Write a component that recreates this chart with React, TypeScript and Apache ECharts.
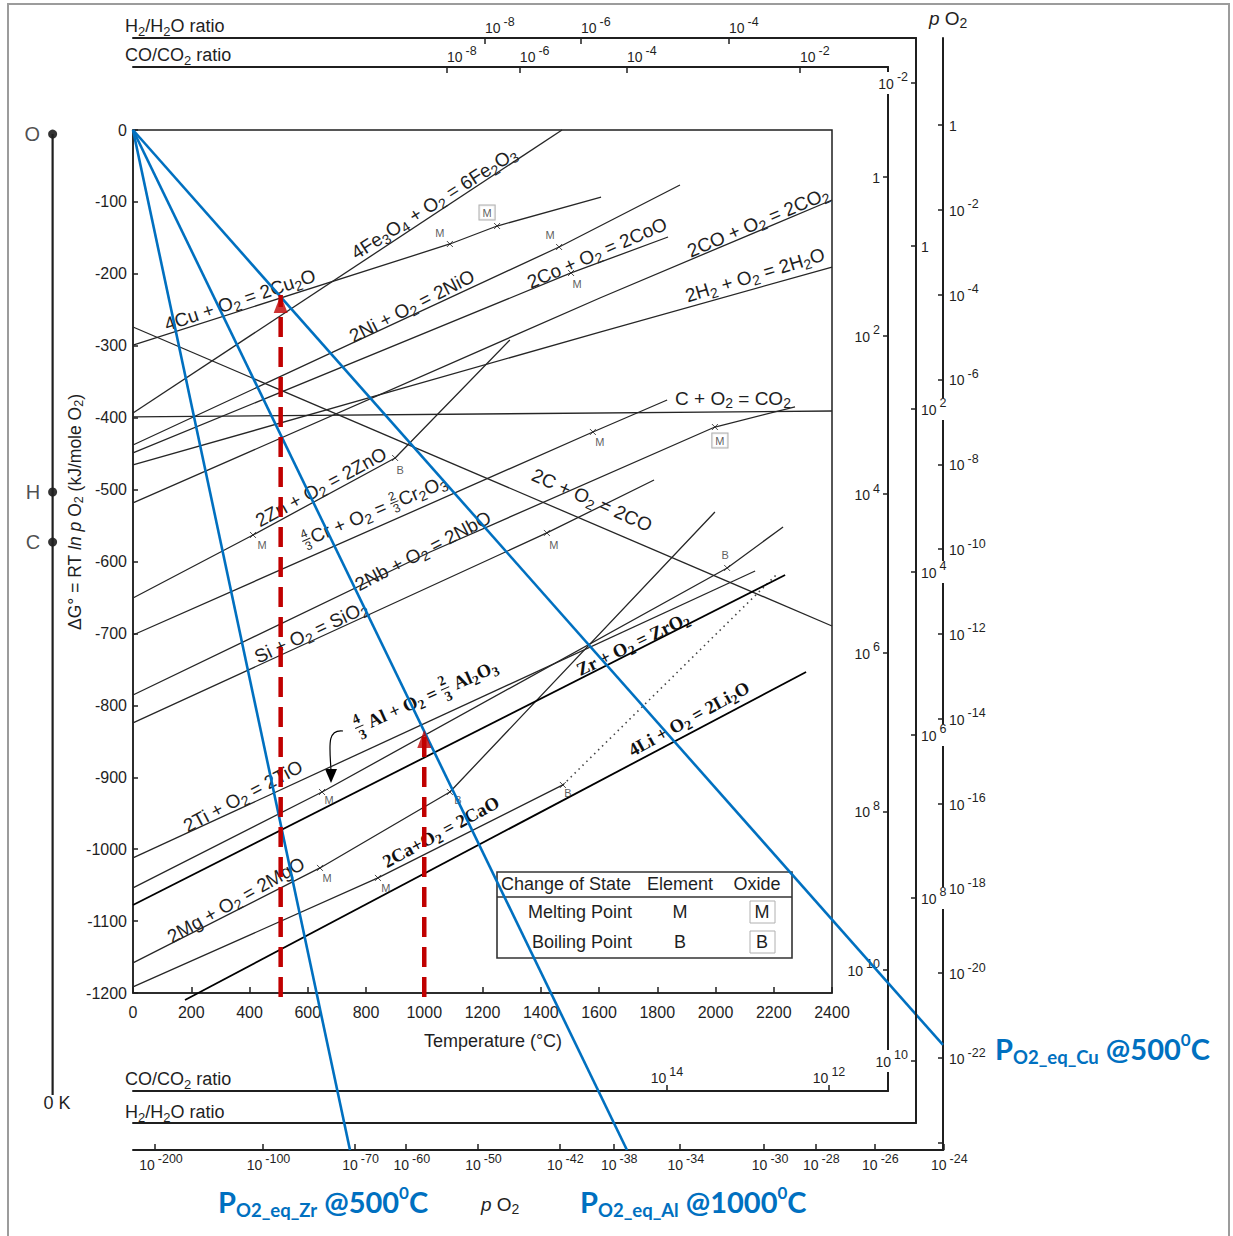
import React, { useEffect, useRef } from 'react';
import * as echarts from 'echarts';

// ================= DATA =================
// Ellingham lines: [temperature (°C), ΔG° (kJ / mole O2)]
const fe2o3Line = [[0, -393.5], [1473, 0]];
const cu2oLine = [[0, -299], [1088, -158.5], [1250, -133.5], [1607, -93.2]];
const nioLine = [[0, -438], [1463, -162.7], [1878, -76.5]];
const cooLine = [[0, -449], [1504, -198.8], [1837, -148.8]];
const co2FromCOLine = [[0, -518.6], [1603, -233.6], [2400, -97.3]];
const h2oLine = [[0, -465.8], [1603, -281], [2400, -190.5]];
const co2FromCLine = [[0, -399], [2400, -390.7]];
const coFromCLine = [[0, -273.9], [2400, -689.7]];
const znoLine = [[0, -650.7], [412, -563.1], [900, -456.1], [1294, -292]];
const cr2o3Line = [[0, -702.2], [1579, -419.9], [1834, -375.4]];
const nboLine = [[0, -785.6], [1020, -586.8], [1998, -413], [2273, -385]];
const sio2Line = [[0, -824.5], [1421, -560.3], [1789, -486.7]];
const tioLine = [[0, -1012.2], [2136, -613.2]];
const al2o3Line = [[0, -1053.9], [649, -920.5], [2040, -609], [2232, -552]];
const zro2Line = [[0, -1077.6], [2239, -618.8]];
const mgoLine = [[0, -1158.2], [642, -1026.1], [1088, -920.5], [1998, -531.1]];
const caoLine = [[0, -1191.6], [841, -1040], [1476, -910.7]];
const caoVapourLine = [[1476, -910.7], [2215, -616]];
const li2oLine = [[178.5, -1209.7], [2311, -753.6]];

// change-of-state marks (points on the lines above)
const meltElementPts = [cu2oLine[1], nioLine[1], cooLine[1], znoLine[1], cr2o3Line[1], sio2Line[1], al2o3Line[1], mgoLine[1], caoLine[1]];
const meltOxidePts = [cu2oLine[2], nboLine[2]];
const boilElementPts = [znoLine[2], mgoLine[2], caoLine[2], al2o3Line[2]];

// the 0 K line with the O, H and C origins
const zeroKelvinT = -276;
const zeroKelvinLine = [[zeroKelvinT, -5.6], [zeroKelvinT, -1341.8]];
const originNames = ['O', 'H', 'C'];
const originDG = [-5.6, -503.3, -572.9];

// equilibrium pO2 construction lines (blue) and the temperature arrows (red)
const eqLineZr = [[0, 0], [745, -1418.2]];
const eqLineAl = [[0, 0], [1696, -1418.2]];
const eqLineCu = [[0, 0], [2781, -1272.2]];
const arrowCu = [[507, -1205.5], [507, -229.4]];
const arrowAl = [[1000, -1205.5], [1000, -834.2]];

// nomographic scales (exponents of ten)
const pO2SideTickExp = [0, -2, -4, -6, -8, -10, -12, -14, -16, -18, -20, -22, -24];
const pO2SideLabelExp = [0, -2, -4, -6, -8, -10, -12, -14, -16, -18, -20, -22];
const pO2BottomExp = [-200, -100, -70, -60, -50, -42, -38, -34, -30, -28, -26, -24];
const coTopExp = [-8, -6, -4, -2];
const coSideExp = [0, 2, 4, 6, 8, 10];
const coBottomExp = [12, 14];
const h2TopExp = [-8, -6, -4];
const h2SideExp = [-2, 0, 2, 4, 6, 8, 10];
const h2SideRightLabelExp = [0, 2, 4, 6, 8];
const h2SideLeftLabelExp = [-2, 10];

// ================= LAYOUT / STYLE =================
const W = 1233;
const H = 1236;
const SANS = '"Liberation Sans", Arial, Helvetica, sans-serif';
const SERIF = '"Liberation Serif", "Times New Roman", serif';
const BLUEFONT = 'Lato, "Open Sans", sans-serif';
const INK = '#1f1f1f';
const BLUE = '#0070C0';
const RED = '#C00000';

// scale geometry of the nomograph axes
const SC = {
  pO2Side: { min: -24.169, max: 2.0514 },
  pO2Bottom: { min: 0.0039767, max: 1 / 24 },
  coTop: { c: 4.5, min: 0.0143096, max: 0.172259 },
  coSide: { min: -1.387, max: 11.526 },
  coBottom: { c: 4.52, min: 0.0125326, max: 0.143951 },
  h2Top: { c: 3.4, min: 0.0193003, max: 0.171487 },
  h2Side: { min: -2.552, max: 10.761 },
};

// ---------- text helpers ----------
let ctx2d: any = null;
function measure(t: string, size: number, family: string, weight: string, italic = false) {
  if (!t) return 0;
  if (!ctx2d && typeof document !== 'undefined') ctx2d = document.createElement('canvas').getContext('2d');
  if (!ctx2d) return t.length * size * 0.55;
  ctx2d.font = `${italic ? 'italic ' : ''}${weight} ${size}px ${family}`;
  return ctx2d.measureText(t).width;
}

type Seg = { k: 'n' | 's' | 'u' | 'i'; t: string } | { k: 'f'; num: string; den: string };
type LStyle = {
  family: string; size: number; sub: number; sup?: number; subDy: number; supDy?: number;
  frac?: number; fracDy?: number; weight: string; color: string;
};

function mkText(t: string, x: number, y: number, size: number, st: LStyle, align: string, italic = false) {
  return {
    type: 'text', x, y, silent: true,
    style: {
      text: t, fontSize: size, fontFamily: st.family, fontWeight: st.weight,
      fontStyle: italic ? 'italic' : 'normal', fill: st.color, align, verticalAlign: 'middle',
    },
  };
}

function chem(s: string): Seg[] {
  const parts = s.split(/_(\d)/);
  const out: Seg[] = [];
  parts.forEach((p, i) => { if (p) out.push({ k: i % 2 ? 's' : 'n', t: p }); });
  return out;
}

function buildLabel(segs: Seg[], st: LStyle, x: number, y: number, angleDeg: number, anchor: 'center' | 'left' = 'center') {
  const kids: any[] = [];
  let cx = 0;
  for (const s of segs) {
    if (s.k === 'f') {
      const fs = st.frac ?? st.size * 0.7;
      const fdy = st.fracDy ?? fs * 0.6;
      const w = Math.max(measure(s.num, fs, st.family, st.weight), measure(s.den, fs, st.family, st.weight)) + 2;
      kids.push(mkText(s.num, cx + w / 2, -fdy, fs, st, 'center'));
      kids.push(mkText(s.den, cx + w / 2, fdy, fs, st, 'center'));
      kids.push({ type: 'line', silent: true, shape: { x1: cx, y1: 0, x2: cx + w, y2: 0 }, style: { stroke: st.color, lineWidth: 1 } });
      cx += w + 1;
      continue;
    }
    const size = s.k === 's' ? st.sub : s.k === 'u' ? (st.sup ?? st.sub) : st.size;
    const dy = s.k === 's' ? st.subDy : s.k === 'u' ? (st.supDy ?? -st.subDy) : 0;
    const italic = s.k === 'i';
    const lead = (s.t.match(/^ */) as any)[0];
    const trail = (s.t.match(/ *$/) as any)[0];
    const core = s.t.trim();
    cx += measure(lead, size, st.family, st.weight, italic);
    if (core) {
      kids.push(mkText(core, cx, dy, size, st, 'left', italic));
      cx += measure(core, size, st.family, st.weight, italic);
    }
    if (core) cx += measure(trail, size, st.family, st.weight, italic);
  }
  const off = anchor === 'center' ? -cx / 2 : 0;
  for (const k of kids) {
    if (k.type === 'line') { k.shape.x1 += off; k.shape.x2 += off; } else k.x += off;
  }
  return { type: 'group', x, y, rotation: (angleDeg * Math.PI) / 180, children: kids, silent: true, z: 1 };
}

const sansLbl: LStyle = { family: SANS, size: 19, sub: 14, subDy: 5, weight: 'normal', color: INK, frac: 12, fracDy: 6.5 };
const serifLbl: LStyle = { family: SERIF, size: 18.5, sub: 13.5, subDy: 5, weight: 'bold', color: '#111', frac: 14, fracDy: 8.5 };
const plainLbl: LStyle = { family: SANS, size: 18, sub: 13, subDy: 5, weight: 'normal', color: INK };
const titleLbl: LStyle = { family: SANS, size: 17.5, sub: 12.5, subDy: 4, weight: 'normal', color: INK };
const blueLbl: LStyle = { family: BLUEFONT, size: 29, sub: 18.5, sup: 17, subDy: 9, supDy: -9, weight: 'bold', color: BLUE };

// ---------- axis label formatting (10^n) ----------
const sciRich = {
  b: { fontSize: 14, fontFamily: SANS, color: INK, lineHeight: 16, verticalAlign: 'bottom' },
  s: { fontSize: 12.5, fontFamily: SANS, color: INK, lineHeight: 14, verticalAlign: 'bottom', padding: [0, 0, 7, 3] },
};
const sci = (n: number) => (n === 0 ? '{b|1}' : `{b|10}{s|${n}}`);
const plainNum = (v: number) => `${v}`;

const axisLineStyle = { color: INK, width: 2 };
const tickStyle = { color: INK, width: 1.5 };

function App() {
  const ref = useRef<HTMLDivElement>(null);

  useEffect(() => {
    if (!ref.current) return;
    const chart = echarts.init(ref.current, null, { renderer: 'svg', width: W, height: H });

    const grids = [
      { left: 133, top: 130, width: 699, height: 863, show: true, borderColor: INK, borderWidth: 1.5 }, // 0 main
      { left: 0, top: 0, width: W, height: H }, // 1 overlay (same scale as main)
      { left: 943, top: 38, width: 1, height: 1112 }, // 2 pO2 side
      { left: 133, top: 1149, width: 810.3, height: 1 }, // 3 pO2 bottom
      { left: 133, top: 67, width: 755, height: 1 }, // 4 CO/CO2 top
      { left: 888, top: 67, width: 1, height: 1024 }, // 5 CO/CO2 side
      { left: 133, top: 1091, width: 755, height: 1 }, // 6 CO/CO2 bottom
      { left: 133, top: 38, width: 783, height: 1 }, // 7 H2/H2O top
      { left: 916, top: 38, width: 1, height: 1085 }, // 8 H2/H2O side
      { left: 916, top: 38, width: 1, height: 1085 }, // 9 H2/H2O side (left labels)
      { left: 133, top: 1123, width: 783, height: 1 }, // 10 H2/H2O bottom
    ].map((g) => ({ containLabel: false, outerBoundsMode: 'none', ...g }));

    const hid = (g: number) => ({ gridIndex: g, type: 'value', min: 0, max: 1, show: false });

    const xAxes: any[] = [
      {
        gridIndex: 0, type: 'value', min: 0, max: 2400, interval: 200,
        axisLine: { onZero: false, lineStyle: { color: INK, width: 1.5 } },
        axisTick: { inside: true, length: 6, lineStyle: tickStyle },
        axisLabel: { fontSize: 16, fontFamily: SANS, color: INK, margin: 11, formatter: plainNum },
        splitLine: { show: false },
      },
      { gridIndex: 1, type: 'value', min: -456.65, max: 3776.8, show: false },
      hid(2),
      {
        gridIndex: 3, type: 'value', position: 'bottom', min: SC.pO2Bottom.min, max: SC.pO2Bottom.max,
        axisLine: { onZero: false, lineStyle: axisLineStyle },
        axisTick: { inside: true, length: 6, lineStyle: tickStyle, customValues: pO2BottomExp.map((n) => 1 / -n) },
        axisLabel: {
          customValues: pO2BottomExp.map((n) => 1 / -n), formatter: (v: number) => sci(-Math.round(1 / v)),
          rich: sciRich, margin: 6, padding: [0, 0, 0, 12],
        },
        splitLine: { show: false },
      },
      {
        gridIndex: 4, type: 'value', position: 'top', min: SC.coTop.min, max: SC.coTop.max,
        axisLine: { onZero: false, lineStyle: axisLineStyle },
        axisTick: { inside: true, length: 6, lineStyle: tickStyle, customValues: coTopExp.map((n) => 1 / (SC.coTop.c - n)) },
        axisLabel: {
          customValues: coTopExp.map((n) => 1 / (SC.coTop.c - n)), formatter: (v: number) => sci(Math.round(SC.coTop.c - 1 / v)),
          rich: sciRich, margin: 3, align: 'left',
        },
        splitLine: { show: false },
      },
      hid(5),
      {
        gridIndex: 6, type: 'value', position: 'top', min: SC.coBottom.min, max: SC.coBottom.max,
        axisLine: { onZero: false, lineStyle: axisLineStyle },
        axisTick: { inside: false, length: 6, lineStyle: tickStyle, customValues: coBottomExp.map((n) => 1 / (n - SC.coBottom.c)) },
        axisLabel: {
          customValues: coBottomExp.map((n) => 1 / (n - SC.coBottom.c)), formatter: (v: number) => sci(Math.round(SC.coBottom.c + 1 / v)),
          rich: sciRich, margin: 6,
        },
        splitLine: { show: false },
      },
      {
        gridIndex: 7, type: 'value', position: 'top', min: SC.h2Top.min, max: SC.h2Top.max,
        axisLine: { onZero: false, lineStyle: axisLineStyle },
        axisTick: { inside: true, length: 6, lineStyle: tickStyle, customValues: h2TopExp.map((n) => 1 / (SC.h2Top.c - n)) },
        axisLabel: {
          customValues: h2TopExp.map((n) => 1 / (SC.h2Top.c - n)), formatter: (v: number) => sci(Math.round(SC.h2Top.c - 1 / v)),
          rich: sciRich, margin: 3, align: 'left',
        },
        splitLine: { show: false },
      },
      hid(8),
      hid(9),
      {
        gridIndex: 10, type: 'value', position: 'top', min: 0, max: 1,
        axisLine: { onZero: false, lineStyle: axisLineStyle },
        axisTick: { show: false }, axisLabel: { show: false }, splitLine: { show: false },
      },
    ];

    const yAxes: any[] = [
      {
        gridIndex: 0, type: 'value', min: -1200, max: 0, interval: 100,
        axisLine: { onZero: false, lineStyle: { color: INK, width: 1.5 } },
        axisTick: { inside: true, length: 5, lineStyle: tickStyle },
        axisLabel: { fontSize: 16, fontFamily: SANS, color: INK, margin: 6, formatter: plainNum },
        splitLine: { show: false },
      },
      { gridIndex: 1, type: 'value', min: -1537.8, max: 180.76, show: false },
      {
        gridIndex: 2, type: 'value', position: 'left', min: SC.pO2Side.min, max: SC.pO2Side.max, z: 1,
        axisLine: { onZero: false, lineStyle: axisLineStyle },
        axisTick: { inside: false, length: 5, lineStyle: tickStyle, customValues: pO2SideTickExp },
        axisLabel: { inside: true, margin: 6, customValues: pO2SideLabelExp, formatter: sci, rich: sciRich },
        splitLine: { show: false },
      },
      hid(3),
      hid(4),
      {
        gridIndex: 5, type: 'value', position: 'left', inverse: true, min: SC.coSide.min, max: SC.coSide.max, z: 1,
        axisLine: { onZero: false, lineStyle: axisLineStyle },
        axisTick: { inside: false, length: 5, lineStyle: tickStyle, customValues: coSideExp },
        axisLabel: { margin: 8, customValues: coSideExp, formatter: sci, rich: sciRich },
        splitLine: { show: false },
      },
      hid(6),
      hid(7),
      {
        gridIndex: 8, type: 'value', position: 'left', inverse: true, min: SC.h2Side.min, max: SC.h2Side.max, z: 6,
        axisLine: { onZero: false, lineStyle: axisLineStyle },
        axisTick: { inside: false, length: 5, lineStyle: tickStyle, customValues: h2SideExp },
        axisLabel: {
          inside: true, margin: 4, customValues: h2SideRightLabelExp, formatter: sci, rich: sciRich,
          backgroundColor: '#fff', padding: [3, 2, 3, 1],
        },
        splitLine: { show: false },
      },
      {
        gridIndex: 9, type: 'value', position: 'left', inverse: true, min: SC.h2Side.min, max: SC.h2Side.max, z: 6,
        axisLine: { show: false }, axisTick: { show: false },
        axisLabel: {
          margin: 7, customValues: h2SideLeftLabelExp, formatter: sci, rich: sciRich,
          backgroundColor: '#fff', padding: [3, 1, 3, 2],
        },
        splitLine: { show: false },
      },
      hid(10),
    ];

    const thin = { color: '#262626', width: 1.3 };
    const bold = { color: '#000', width: 1.8 };
    const lineS = (name: string, data: number[][], style: any, extra: any = {}) => ({
      type: 'line', name, data, xAxisIndex: 0, yAxisIndex: 0, symbol: 'none', silent: true, z: 2,
      lineStyle: style, clip: false, ...extra,
    });

    const CROSS = 'path://M0,0L10,10M10,0L0,10';
    const markLabel = {
      show: true, position: 'top', distance: 0, fontSize: 11, fontFamily: SANS, color: '#333',
      textBorderWidth: 0, textBorderColor: 'transparent', textShadowBlur: 0,
    };
    const boxed = { borderColor: '#9a9a9a', borderWidth: 1, padding: [2, 3, 1, 3], backgroundColor: '#fff' };
    // label centre relative to the mark (pixels)
    const meltElementOffsets = [[-10, -11], [-9, -13], [6, 11], [9, 10], [7, 10], [7, 12], [7, 8], [7, 10], [8, 10]];
    const meltOxideOffsets = [[-10, -14], [5, 13]];
    const boilElementOffsets = [[5, 11], [8, 8], [5, 8], [-2, -13]];
    const toOff = (o: number[], box = false) => [o[0], o[1] + (box ? 11 : 9.5)];
    const markData = [
      ...meltElementPts.map((p, i) => ({ value: p, label: { ...markLabel, formatter: 'M', offset: toOff(meltElementOffsets[i]) } })),
      ...meltOxidePts.map((p, i) => ({ value: p, label: { ...markLabel, ...boxed, formatter: 'M', offset: toOff(meltOxideOffsets[i], true) } })),
      ...boilElementPts.map((p, i) => ({ value: p, label: { ...markLabel, formatter: 'B', offset: toOff(boilElementOffsets[i]) } })),
    ];

    const series: any[] = [
      lineS('4Fe3O4 + O2 = 6Fe2O3', fe2o3Line, thin),
      lineS('4Cu + O2 = 2Cu2O', cu2oLine, thin),
      lineS('2Ni + O2 = 2NiO', nioLine, thin),
      lineS('2Co + O2 = 2CoO', cooLine, thin),
      lineS('2CO + O2 = 2CO2', co2FromCOLine, thin),
      lineS('2H2 + O2 = 2H2O', h2oLine, thin),
      lineS('C + O2 = CO2', co2FromCLine, thin),
      lineS('2C + O2 = 2CO', coFromCLine, thin),
      lineS('2Zn + O2 = 2ZnO', znoLine, thin),
      lineS('4/3Cr + O2 = 2/3Cr2O3', cr2o3Line, thin),
      lineS('2Nb + O2 = 2NbO', nboLine, thin),
      lineS('Si + O2 = SiO2', sio2Line, thin),
      lineS('2Ti + O2 = 2TiO', tioLine, thin),
      lineS('4/3Al + O2 = 2/3Al2O3', al2o3Line, thin),
      lineS('2Mg + O2 = 2MgO', mgoLine, thin),
      lineS('2Ca + O2 = 2CaO', caoLine, thin),
      lineS('2Ca(g) + O2 = 2CaO', caoVapourLine, { color: '#444', width: 1.6, type: [1.5, 4] }),
      lineS('Zr + O2 = ZrO2', zro2Line, bold),
      lineS('4Li + O2 = 2Li2O', li2oLine, bold),
      {
        type: 'scatter', name: 'change of state', xAxisIndex: 0, yAxisIndex: 0, symbol: CROSS, symbolSize: 6, silent: true, z: 3,
        itemStyle: { color: 'transparent', borderColor: INK, borderWidth: 1 }, data: markData,
        label: markLabel,
      },
      {
        type: 'line', name: '0 K', xAxisIndex: 1, yAxisIndex: 1, data: zeroKelvinLine, symbol: 'none', silent: true,
        lineStyle: { color: INK, width: 2.2 },
      },
      {
        type: 'scatter', name: 'origins', xAxisIndex: 1, yAxisIndex: 1, symbol: 'circle', symbolSize: 9, silent: true,
        itemStyle: { color: '#000' },
        data: originNames.map((n, i) => ({ name: n, value: [zeroKelvinT, originDG[i]] })),
        label: { show: true, position: 'left', distance: 8, formatter: '{b}', fontSize: 20, fontFamily: SANS, color: INK },
      },
      ...[eqLineZr, eqLineAl, eqLineCu].map((d, i) => ({
        type: 'line', name: ['pO2 eq Zr', 'pO2 eq Al', 'pO2 eq Cu'][i], xAxisIndex: 1, yAxisIndex: 1, data: d,
        symbol: 'none', silent: true, z: 4, lineStyle: { color: BLUE, width: 2.6 },
      })),
      ...[arrowCu, arrowAl].map((d, i) => ({
        type: 'line', name: ['500 °C', '1000 °C'][i], xAxisIndex: 1, yAxisIndex: 1, data: d,
        symbol: 'none', silent: true, z: 5, lineStyle: { color: RED, width: 4.5, type: [20, 10] },
      })),
      {
        type: 'scatter', name: 'arrow heads', xAxisIndex: 1, yAxisIndex: 1, silent: true, z: 6,
        symbol: 'triangle', symbolSize: [14, 18], symbolOffset: [0, 9], itemStyle: { color: RED },
        data: [arrowCu[1], arrowAl[1]],
      },
    ];

    // ---------- graphics: texts & legend ----------
    const g: any[] = [];
    g.push({ type: 'rect', silent: true, z: 0, shape: { x: 8, y: 4, width: 1221, height: 1240 }, style: { fill: 'none', stroke: '#9c9c9c', lineWidth: 2 } });

    const lineLabels: [string, number, number, number][] = [
      ['4Fe_3O_4 + O_2 = 6Fe_2O_3', 434, 203, 32.5],
      ['4Cu + O_2 = 2Cu_2O', 240, 300, 18.5],
      ['2Ni + O_2 = 2NiO', 412, 306, 27],
      ['2Co + O_2 = 2CoO', 597, 253, 23.5],
      ['2CO + O_2 = 2CO_2', 758, 222, 23],
      ['2H_2 + O_2 = 2H_2O', 755, 275, 17],
      ['C + O_2 = CO_2', 733, 398, 0],
      ['2C + O_2 = 2CO', 592, 500, -24],
      ['2Zn + O_2 = 2ZnO', 321, 487, 28.5],
      ['2Nb + O_2 = 2NbO', 423, 551, 27.5],
      ['Si + O_2 = SiO_2', 311, 632, 25],
      ['2Ti + O_2 = 2TiO', 243, 796, 28],
      ['2Mg + O_2 = 2MgO', 236, 900, 29.5],
    ];
    lineLabels.forEach(([t, x, y, a]) => g.push(buildLabel(chem(t), sansLbl, x, y, a)));
    g.push(buildLabel([{ k: 'f', num: '4', den: '3' }, { k: 'n', t: 'Cr + O' }, { k: 's', t: '2' }, { k: 'n', t: ' = ' },
      { k: 'f', num: '2', den: '3' }, { k: 'n', t: 'Cr' }, { k: 's', t: '2' }, { k: 'n', t: 'O' }, { k: 's', t: '3' }], sansLbl, 374, 511, 23));

    const serifLabels: [string, number, number, number][] = [
      ['2Ca+O_2 = 2CaO', 441, 832, 28.5],
      ['Zr + O_2 = ZrO_2', 633, 644, 26],
      ['4Li + O_2 = 2Li_2O', 689, 719, 29],
    ];
    serifLabels.forEach(([t, x, y, a]) => g.push(buildLabel(chem(t), serifLbl, x, y, a)));
    g.push(buildLabel([{ k: 'f', num: '4', den: '3' }, { k: 'n', t: ' Al + O' }, { k: 's', t: '2' }, { k: 'n', t: ' = ' },
      { k: 'f', num: '2', den: '3' }, { k: 'n', t: ' Al' }, { k: 's', t: '2' }, { k: 'n', t: 'O' }, { k: 's', t: '3' }], serifLbl, 426, 697, 24));
    // curved pointer from the Al label to its line
    g.push({ type: 'bezierCurve', silent: true, z: 1, shape: { x1: 343, y1: 731, cpx1: 326, cpy1: 729, cpx2: 330, cpy2: 748, x2: 331, y2: 771 }, style: { stroke: '#000', lineWidth: 1.2, fill: 'none' } });
    g.push({ type: 'polygon', silent: true, z: 1, shape: { points: [[325, 769], [337, 769], [331, 783]] }, style: { fill: '#000' } });

    // axis titles
    g.push(buildLabel([{ k: 'n', t: 'ΔG° = RT ' }, { k: 'i', t: 'ln p' }, { k: 'n', t: ' O' }, { k: 's', t: '2' },
      { k: 'n', t: ' (kJ/mole O' }, { k: 's', t: '2' }, { k: 'n', t: ')' }], titleLbl, 75, 512, 90));
    g.push(buildLabel([{ k: 'n', t: 'Temperature (°C)' }], plainLbl, 493, 1041, 0));

    // scale titles
    g.push(buildLabel(chem('H_2/H_2O ratio'), plainLbl, 125, 26, 0, 'left'));
    g.push(buildLabel(chem('CO/CO_2 ratio'), plainLbl, 125, 55, 0, 'left'));
    g.push(buildLabel(chem('CO/CO_2 ratio'), plainLbl, 125, 1079, 0, 'left'));
    g.push(buildLabel(chem('H_2/H_2O ratio'), plainLbl, 125, 1112, 0, 'left'));
    const pLbl: LStyle = { ...plainLbl, size: 19, sub: 14 };
    g.push(buildLabel([{ k: 'i', t: 'p' }, { k: 'n', t: ' O' }, { k: 's', t: '2' }], pLbl, 929, 18, 0, 'left'));
    g.push(buildLabel([{ k: 'i', t: 'p' }, { k: 'n', t: ' O' }, { k: 's', t: '2' }], pLbl, 481, 1204, 0, 'left'));
    g.push(buildLabel([{ k: 'n', t: '0 K' }], plainLbl, 57, 1103, 0));

    // legend table
    const tt = (t: string, x: number, y: number) => ({
      type: 'text', x, y, silent: true, z: 1,
      style: { text: t, fontSize: 18, fontFamily: SANS, fill: INK, align: 'center', verticalAlign: 'middle' },
    });
    g.push({ type: 'rect', silent: true, z: 1, shape: { x: 497, y: 872, width: 295, height: 86 }, style: { fill: 'none', stroke: '#333', lineWidth: 1.6 } });
    g.push({ type: 'line', silent: true, z: 1, shape: { x1: 497, y1: 897, x2: 792, y2: 897 }, style: { stroke: '#333', lineWidth: 1.6 } });
    g.push(tt('Change of State', 566, 884), tt('Element', 680, 884), tt('Oxide', 757, 884));
    g.push(tt('Melting Point', 580, 912), tt('M', 680, 912), tt('M', 762, 912));
    g.push(tt('Boiling Point', 582, 942), tt('B', 680, 942), tt('B', 762, 942));
    g.push({ type: 'rect', silent: true, z: 1, shape: { x: 750, y: 901, width: 25, height: 22 }, style: { fill: 'none', stroke: '#b0b0b0', lineWidth: 1 } });
    g.push({ type: 'rect', silent: true, z: 1, shape: { x: 750, y: 931, width: 25, height: 22 }, style: { fill: 'none', stroke: '#b0b0b0', lineWidth: 1 } });

    // blue annotations
    const blueSegs = (el: string, temp: string): Seg[] => [
      { k: 'n', t: 'P' }, { k: 's', t: `O2_eq_${el}` }, { k: 'n', t: ` @${temp}` }, { k: 'u', t: '0' }, { k: 'n', t: 'C' },
    ];
    g.push(buildLabel(blueSegs('Cu', '500'), blueLbl, 995, 1048, 0, 'left'));
    g.push(buildLabel(blueSegs('Zr', '500'), blueLbl, 218, 1201, 0, 'left'));
    g.push(buildLabel(blueSegs('Al', '1000'), blueLbl, 580, 1201, 0, 'left'));

    chart.setOption({
      animation: false,
      backgroundColor: '#fff',
      grid: grids,
      xAxis: xAxes,
      yAxis: yAxes,
      series,
      graphic: { elements: g },
    });
    return () => chart.dispose();
  }, []);

  return (
    <div
      ref={ref}
      style={{ position: 'absolute', left: 0, top: 0, width: W, height: H, background: '#fff' }}
    />
  );
}

export default App;
